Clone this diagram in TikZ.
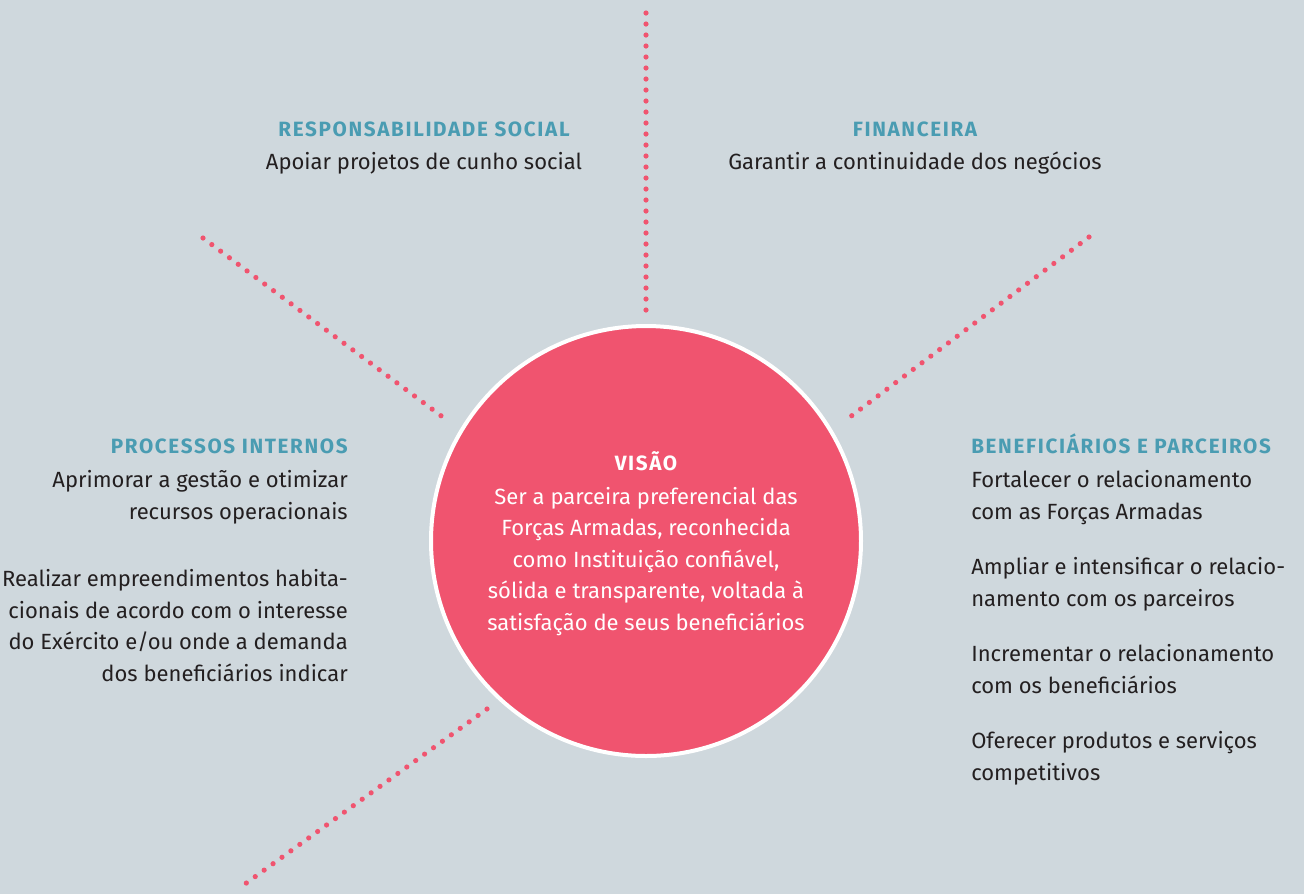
\documentclass[tikz,border=0pt]{standalone}
\usepackage{fontspec}
\setmainfont{Fira Sans}
\newfontfamily\headfont[LetterSpace=8]{Fira Sans}
\definecolor{bg}{HTML}{CFD8DD}
\definecolor{rose}{HTML}{F0546F}
\definecolor{teal}{HTML}{4A9CB2}
\definecolor{ink}{HTML}{231F20}
\tikzset{
  dotline/.style={draw=rose, line width=3.9pt, line cap=round, dash pattern=on 0pt off 8.25pt},
  head/.style={inner sep=0pt, anchor=base, font=\headfont\fontsize{15.5}{16}\selectfont\bfseries, text=teal},
  body/.style={inner sep=0pt, anchor=base, font=\fontsize{16.5}{23.6}\selectfont, text=ink},
  vhead/.style={head, text=white},
  vbody/.style={inner sep=0pt, anchor=base, align=center, font=\fontsize{16.5}{23.6}\selectfont, text=white},
}
\begin{document}
\begin{tikzpicture}[x=0.75pt,y=-0.75pt]
\fill[bg] (0,0) rectangle (1304,894);
\useasboundingbox (0,0) rectangle (1304,894);
% dotted rays
\coordinate (t1) at (646,13);   \coordinate (t2) at (646,312);
\coordinate (ul1) at (203,238); \coordinate (ul2) at (444,418);
\coordinate (ur1) at (1089,237);\coordinate (ur2) at (850,417);
\coordinate (ll1) at (487,709); \coordinate (ll2) at (245,884);
\draw[dotline] (t1) -- (t2);
\draw[dotline] (ul1) -- (ul2);
\draw[dotline] (ur1) -- (ur2);
\draw[dotline] (ll1) -- (ll2);
% circle
\node[circle, fill=rose, draw=white, line width=3pt, minimum size=322.5pt, inner sep=0pt] (vis) at (646,541) {};
\node[vhead] (vt) at (646,470) {VISÃO};
\node[vbody] (vb) at (646,630) {Ser a parceira preferencial das\\Forças Armadas, reconhecida\\como Instituição confiável,\\sólida e transparente, voltada à\\satisfação de seus beneficiários};
% responsabilidade social
\node[head] (rsh) at (424,136) {RESPONSABILIDADE SOCIAL};
\node[body] (rsb) at (424,169) {Apoiar projetos de cunho social};
% financeira
\node[head] (fh) at (915,136) {FINANCEIRA};
\node[body] (fb) at (915,169) {Garantir a continuidade dos negócios};
% processos internos
\node[head, anchor=base east] (pih) at (348,453) {PROCESSOS INTERNOS};
\node[body, anchor=base east, align=right] (pib1) at (348,519) {Aprimorar a gestão e otimizar\\recursos operacionais};
\node[body, anchor=base east, align=right] (pib2) at (348,681) {Realizar empreendimentos habita-\\cionais de acordo com o interesse\\do Exército e/ou onde a demanda\\dos beneficiários indicar};
% beneficiarios e parceiros
\node[head, anchor=base west] (bph) at (971,453) {BENEFICIÁRIOS E PARCEIROS};
\node[body, anchor=base west, align=left] (bpb1) at (971,519) {Fortalecer o relacionamento\\com as Forças Armadas};
\node[body, anchor=base west, align=left] (bpb2) at (971,606) {Ampliar e intensificar o relacio-\\namento com os parceiros};
\node[body, anchor=base west, align=left] (bpb3) at (971,693) {Incrementar o relacionamento\\com os beneficiários};
\node[body, anchor=base west, align=left] (bpb4) at (971,780) {Oferecer produtos e serviços\\competitivos};
\end{tikzpicture}
\end{document}
